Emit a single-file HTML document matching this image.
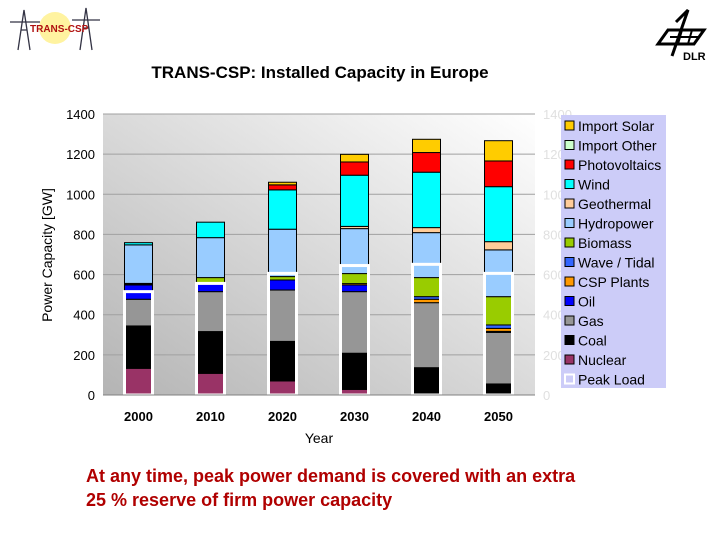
<!DOCTYPE html>
<html><head><meta charset="utf-8"><style>
body{margin:0;background:#fff;}
svg text{font-family:"Liberation Sans",Arial,sans-serif;}
</style></head><body>
<svg id="c" width="720" height="540" xmlns="http://www.w3.org/2000/svg">
<defs>
<linearGradient id="bg" x1="0" y1="1" x2="1" y2="0">
<stop offset="0" stop-color="#b4b4b4"/><stop offset="1" stop-color="#ffffff"/>
</linearGradient>
</defs>
<g>
<circle cx="55" cy="28" r="16" fill="#fff3a0"/>
<path d="M18 50 L24 10 L30 50 M21 30 H27 M10 22 H40 M80 50 L86 8 L92 50 M83 28 H89 M72 20 H100" stroke="#334" fill="none" stroke-width="1.3"/>
<text x="30" y="32" font-size="10" font-weight="bold" fill="#b01010">TRANS-CSP</text>
</g>
<g>
<path d="M658 44 L668 30 L704 30 L694 44 Z M676 22 L688 10 L672 56" stroke="#000" stroke-width="3" fill="none"/>
<path d="M670 37 H700 M682 30 L678 44 M692 30 L688 44" stroke="#000" stroke-width="2"/>
<text x="683" y="60" font-size="11" font-weight="bold" fill="#000">DLR</text>
</g>
<text x="320" y="78" font-size="17" font-weight="bold" text-anchor="middle" fill="#000">TRANS-CSP: Installed Capacity in Europe</text>
<rect x="103" y="114" width="432" height="281" fill="url(#bg)"/>
<g id="grid"></g><g id="bars"></g><g id="axes"></g>
<text x="319" y="443" font-size="14" text-anchor="middle" fill="#000">Year</text>
<text x="0" y="0" font-size="14" text-anchor="middle" fill="#000" transform="translate(52,255) rotate(-90)">Power Capacity [GW]</text>
<rect x="561" y="115" width="105" height="273" fill="#ccccf8"/>
<g id="legend"></g>
<text x="86" y="482" font-size="18" font-weight="bold" fill="#b00000">At any time, peak power demand is covered with an extra</text>
<text x="86" y="506" font-size="18" font-weight="bold" fill="#b00000">25 % reserve of firm power capacity</text>
</svg>
<script>
const years=["2000","2010","2020","2030","2040","2050"];
const seriesNames=["Nuclear","Coal","Gas","Oil","CSP Plants","Wave / Tidal","Biomass","Hydropower","Geothermal","Wind","Photovoltaics","Import Other","Import Solar"];
const nuclear=[133,108,70,28,0,0];
const coal=[211,208,197,180,136,55];
const gas=[133,199,256,307,324,257];
const oil=[71,45,50,33,0,5];
const csp=[0,0,0,7,17,15];
const wave=[3,0,0,0,13,17];
const biomass=[5,25,17,50,95,141];
const hydro=[192,199,236,224,224,233];
const geothermal=[0,0,0,11,25,41];
const wind=[11,77,196,255,276,274];
const pv=[0,0,25,66,98,128];
const importOther=[0,0,0,0,0,0];
const importSolar=[0,0,13,38,66,101];
const peakLoad=[515,556,606,645,651,606];
const yTicks=[0,200,400,600,800,1000,1200,1400];
const series=[nuclear,coal,gas,oil,csp,wave,biomass,hydro,geothermal,wind,pv,importOther,importSolar];
const colors=["#993366","#000000","#969696","#0000ff","#ff9900","#3366ff","#99cc00","#99ccff","#ffcc99","#00ffff","#ff0000","#ccffcc","#ffcc00"];
const NS="http://www.w3.org/2000/svg";
const y0=395,y1=114,x0=103,x1=535;
const yS=v=>y0-(v/1400)*(y0-y1);
const bw=(x1-x0)/years.length;
const xC=i=>x0+bw*(i+0.5)-0.5;
function mk(t,a,p){const e=document.createElementNS(NS,t);for(const k in a)e.setAttribute(k,a[k]);p.appendChild(e);return e;}
const grid=document.getElementById('grid'),axes=document.getElementById('axes'),bars=document.getElementById('bars'),leg=document.getElementById('legend');
yTicks.forEach(t=>{
 const l=mk('line',{x1:x0,x2:x1,y1:yS(t),y2:yS(t),stroke:'#a0a0a0','stroke-width':1},grid);
 
 
 const tx=mk('text',{x:95,y:yS(t)+5,'font-size':13,'text-anchor':'end',fill:'#000'},axes);tx.textContent=t;
 
 
 const rt=mk('text',{x:543,y:yS(t)+5,'font-size':13,fill:'#e0e0e0'},axes);rt.textContent=t;
 
 
});
mk('line',{x1:x0,x2:x1,y1:y0,y2:y0,stroke:'#808080'},axes);
years.forEach((yr,i)=>{
 let cum=0;const cx=xC(i),w=28;
 series.forEach((s,j)=>{
  const v=s[i];if(v<=0)return;
  const r=mk('rect',{x:cx-w/2,y:yS(cum+v),width:w,height:yS(cum)-yS(cum+v),fill:colors[j],stroke:'#000','stroke-width':1},bars);
  
  
  cum+=v;
 });
 const p=mk('rect',{x:cx-w/2,y:yS(peakLoad[i]),width:w,height:yS(0)-yS(peakLoad[i]),fill:'none',stroke:'#fff','stroke-width':3},bars);
 
 
 const t=mk('text',{x:cx,y:421,'font-size':13,'font-weight':'bold','text-anchor':'middle',fill:'#000'},axes);t.textContent=yr;
 
 
});
const legNames=["Import Solar","Import Other","Photovoltaics","Wind","Geothermal","Hydropower","Biomass","Wave / Tidal","CSP Plants","Oil","Gas","Coal","Nuclear"];
const legColors=[...colors].reverse();
legNames.concat(["Peak Load"]).forEach((n,k)=>{
 const y=120+k*19.5;
 const g=mk('g',{},leg);
 
 
 if(k<13)mk('rect',{x:565,y:y+1,width:9,height:9,fill:legColors[k],stroke:'#000','stroke-width':1},g);
 else mk('rect',{x:565,y:y+1,width:9,height:9,fill:'none',stroke:'#fff','stroke-width':2},g);
 const t=mk('text',{x:578,y:y+11,'font-size':14,fill:'#000'},g);t.textContent=n;
});
</script>
</body></html>
